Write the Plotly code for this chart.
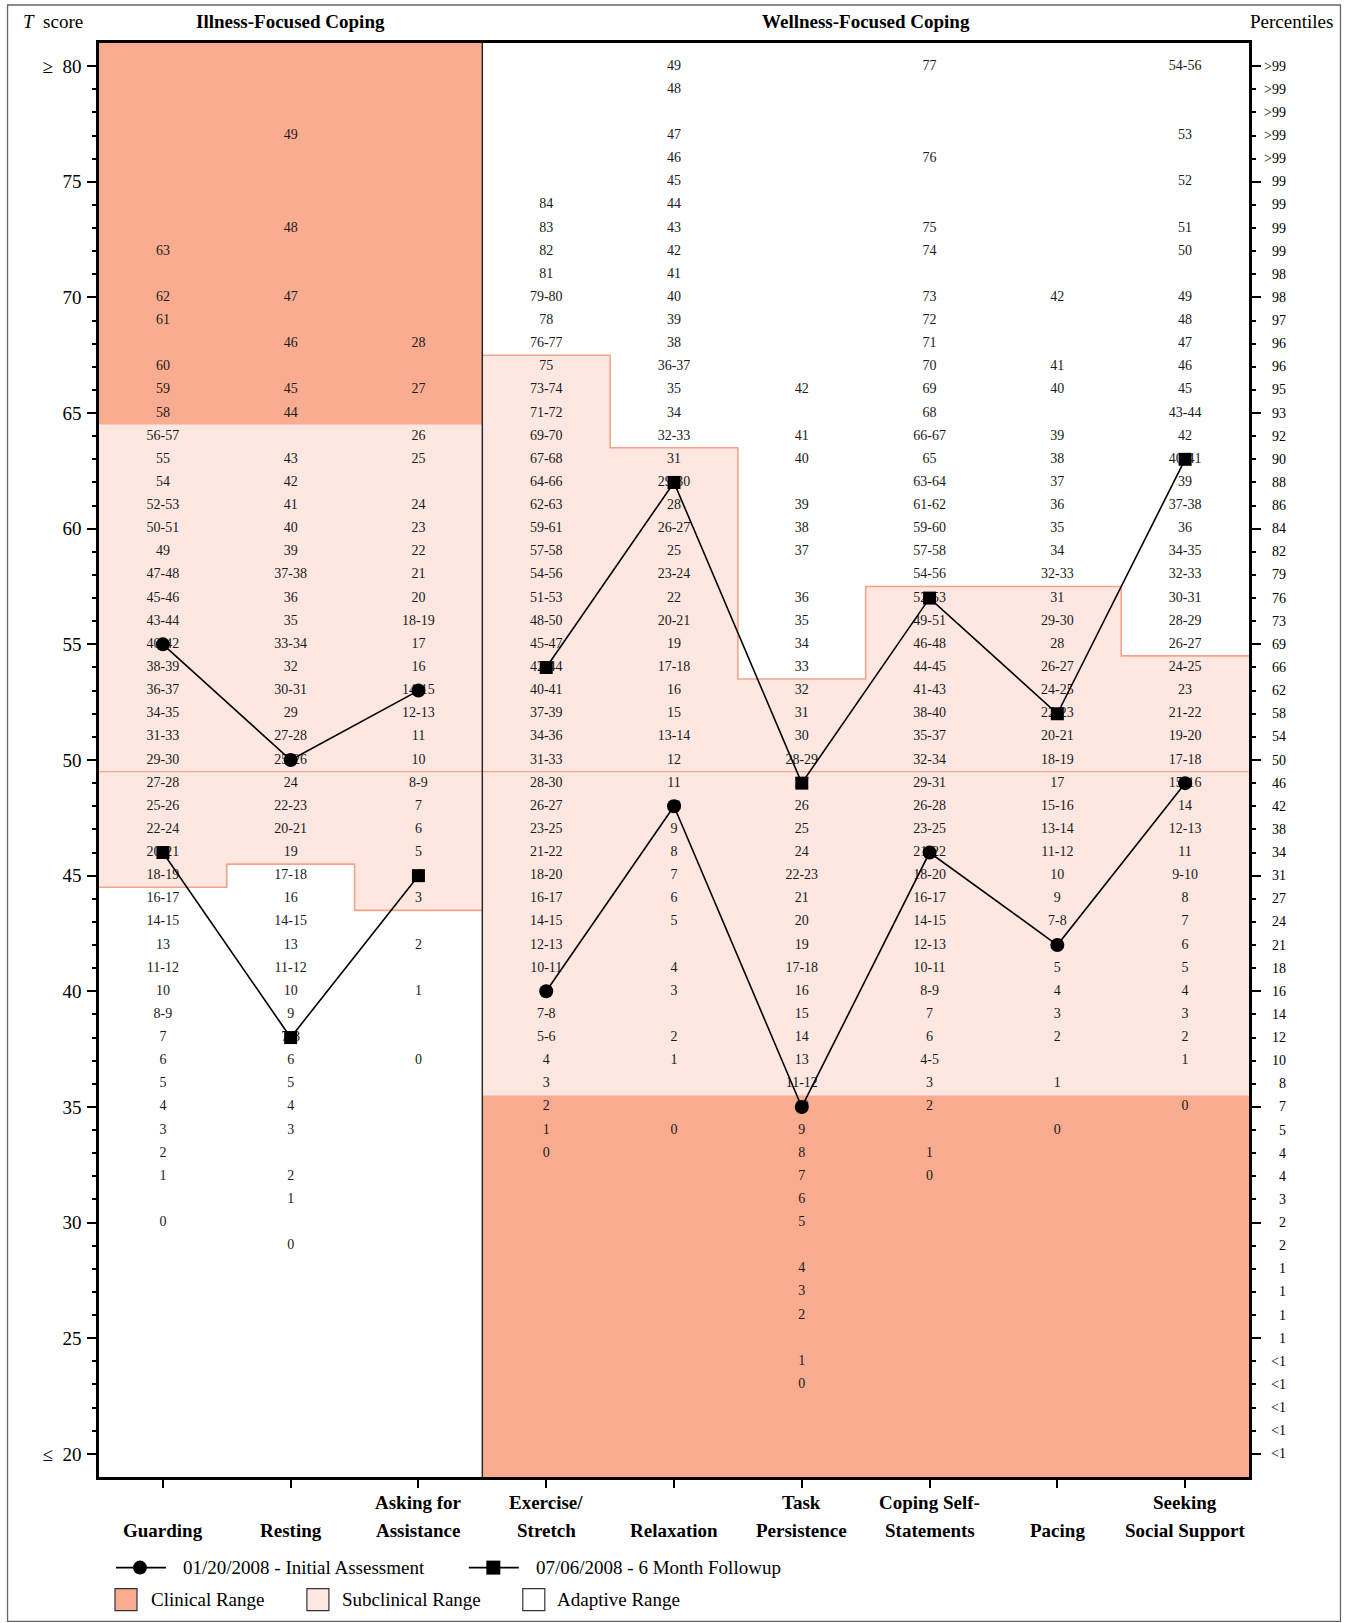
import plotly.graph_objects as go

# ---------------- data ----------------
categories = ["Guarding", "Resting", "Asking for<br>Assistance", "Exercise/<br>Stretch",
              "Relaxation", "Task<br>Persistence", "Coping Self-<br>Statements",
              "Pacing", "Seeking<br>Social Support"]
group = ["illness", "illness", "illness", "wellness", "wellness", "wellness",
         "wellness", "wellness", "wellness"]

initial = [55, 50, 53, 40, 48, 35, 46, 42, 49]      # 01/20/2008
followup = [46, 38, 45, 54, 62, 49, 57, 52, 63]     # 07/06/2008

illness_clinical_min = 65      # illness scales: T >= 65 clinical
wellness_clinical_max = 35     # wellness scales: T <= 35 clinical
# illness: lowest subclinical T ; wellness: highest subclinical T
subclinical_edge = [45, 46, 44, 67, 63, 53, 57, 57, 54]
mean_T = 50

raw_guarding = {72: "63", 70: "62", 69: "61", 67: "60", 66: "59", 65: "58", 64: "56-57",
                63: "55", 62: "54", 61: "52-53", 60: "50-51", 59: "49", 58: "47-48",
                57: "45-46", 56: "43-44", 55: "40-42", 54: "38-39", 53: "36-37",
                52: "34-35", 51: "31-33", 50: "29-30", 49: "27-28", 48: "25-26",
                47: "22-24", 46: "20-21", 45: "18-19", 44: "16-17", 43: "14-15",
                42: "13", 41: "11-12", 40: "10", 39: "8-9", 38: "7", 37: "6", 36: "5",
                35: "4", 34: "3", 33: "2", 32: "1", 30: "0"}
raw_resting = {77: "49", 73: "48", 70: "47", 68: "46", 66: "45", 65: "44", 63: "43",
               62: "42", 61: "41", 60: "40", 59: "39", 58: "37-38", 57: "36", 56: "35",
               55: "33-34", 54: "32", 53: "30-31", 52: "29", 51: "27-28", 50: "25-26",
               49: "24", 48: "22-23", 47: "20-21", 46: "19", 45: "17-18", 44: "16",
               43: "14-15", 42: "13", 41: "11-12", 40: "10", 39: "9", 38: "7-8",
               37: "6", 36: "5", 35: "4", 34: "3", 32: "2", 31: "1", 29: "0"}
raw_asking = {68: "28", 66: "27", 64: "26", 63: "25", 61: "24", 60: "23", 59: "22",
              58: "21", 57: "20", 56: "18-19", 55: "17", 54: "16", 53: "14-15",
              52: "12-13", 51: "11", 50: "10", 49: "8-9", 48: "7", 47: "6", 46: "5",
              45: "4", 44: "3", 42: "2", 40: "1", 37: "0"}
raw_exercise = {74: "84", 73: "83", 72: "82", 71: "81", 70: "79-80", 69: "78", 68: "76-77",
                67: "75", 66: "73-74", 65: "71-72", 64: "69-70", 63: "67-68", 62: "64-66",
                61: "62-63", 60: "59-61", 59: "57-58", 58: "54-56", 57: "51-53",
                56: "48-50", 55: "45-47", 54: "42-44", 53: "40-41", 52: "37-39",
                51: "34-36", 50: "31-33", 49: "28-30", 48: "26-27", 47: "23-25",
                46: "21-22", 45: "18-20", 44: "16-17", 43: "14-15", 42: "12-13",
                41: "10-11", 40: "9", 39: "7-8", 38: "5-6", 37: "4", 36: "3", 35: "2",
                34: "1", 33: "0"}
raw_relaxation = {80: "49", 79: "48", 77: "47", 76: "46", 75: "45", 74: "44", 73: "43",
                  72: "42", 71: "41", 70: "40", 69: "39", 68: "38", 67: "36-37", 66: "35",
                  65: "34", 64: "32-33", 63: "31", 62: "29-30", 61: "28", 60: "26-27",
                  59: "25", 58: "23-24", 57: "22", 56: "20-21", 55: "19", 54: "17-18",
                  53: "16", 52: "15", 51: "13-14", 50: "12", 49: "11", 48: "10", 47: "9",
                  46: "8", 45: "7", 44: "6", 43: "5", 41: "4", 40: "3", 38: "2", 37: "1",
                  34: "0"}
raw_task = {66: "42", 64: "41", 63: "40", 61: "39", 60: "38", 59: "37", 57: "36", 56: "35",
            55: "34", 54: "33", 53: "32", 52: "31", 51: "30", 50: "28-29", 49: "27",
            48: "26", 47: "25", 46: "24", 45: "22-23", 44: "21", 43: "20", 42: "19",
            41: "17-18", 40: "16", 39: "15", 38: "14", 37: "13", 36: "11-12", 35: "10",
            34: "9", 33: "8", 32: "7", 31: "6", 30: "5", 28: "4", 27: "3", 26: "2",
            24: "1", 23: "0"}
raw_coping = {80: "77", 76: "76", 73: "75", 72: "74", 70: "73", 69: "72", 68: "71", 67: "70",
              66: "69", 65: "68", 64: "66-67", 63: "65", 62: "63-64", 61: "61-62",
              60: "59-60", 59: "57-58", 58: "54-56", 57: "52-53", 56: "49-51",
              55: "46-48", 54: "44-45", 53: "41-43", 52: "38-40", 51: "35-37",
              50: "32-34", 49: "29-31", 48: "26-28", 47: "23-25", 46: "21-22",
              45: "18-20", 44: "16-17", 43: "14-15", 42: "12-13", 41: "10-11",
              40: "8-9", 39: "7", 38: "6", 37: "4-5", 36: "3", 35: "2", 33: "1", 32: "0"}
raw_pacing = {70: "42", 67: "41", 66: "40", 64: "39", 63: "38", 62: "37", 61: "36", 60: "35",
              59: "34", 58: "32-33", 57: "31", 56: "29-30", 55: "28", 54: "26-27",
              53: "24-25", 52: "22-23", 51: "20-21", 50: "18-19", 49: "17", 48: "15-16",
              47: "13-14", 46: "11-12", 45: "10", 44: "9", 43: "7-8", 42: "6", 41: "5",
              40: "4", 39: "3", 38: "2", 36: "1", 34: "0"}
raw_seeking = {80: "54-56", 77: "53", 75: "52", 73: "51", 72: "50", 70: "49", 69: "48",
               68: "47", 67: "46", 66: "45", 65: "43-44", 64: "42", 63: "40-41", 62: "39",
               61: "37-38", 60: "36", 59: "34-35", 58: "32-33", 57: "30-31", 56: "28-29",
               55: "26-27", 54: "24-25", 53: "23", 52: "21-22", 51: "19-20", 50: "17-18",
               49: "15-16", 48: "14", 47: "12-13", 46: "11", 45: "9-10", 44: "8", 43: "7",
               42: "6", 41: "5", 40: "4", 39: "3", 38: "2", 37: "1", 35: "0"}
raw_scores = [raw_guarding, raw_resting, raw_asking, raw_exercise, raw_relaxation,
              raw_task, raw_coping, raw_pacing, raw_seeking]

percentile_T = list(range(80, 19, -1))
percentile_labels = [">99", ">99", ">99", ">99", ">99", "99", "99", "99", "99", "98",
                     "98", "97", "96", "96", "95", "93", "92", "90", "88", "86",
                     "84", "82", "79", "76", "73", "69", "66", "62", "58", "54",
                     "50", "46", "42", "38", "34", "31", "27", "24", "21", "18",
                     "16", "14", "12", "10", "8", "7", "5", "4", "4", "3",
                     "2", "2", "1", "1", "1", "1", "<1", "<1", "<1", "<1", "<1"]

y_major = [20, 25, 30, 35, 40, 45, 50, 55, 60, 65, 70, 75, 80]
y_major_text = ["\u2264\u00a0 20", "25", "30", "35", "40", "45", "50", "55", "60", "65",
                "70", "75", "\u2265\u00a0 80"]

# ---------------- styles ----------------
CLIN = "#F9AC8F"
SUB = "#FDE7E0"
EDGE = "#F6A487"
SERIF = "Liberation Serif"

W, H = 1346, 1623
L, R, TOP, BOT = 99, 1249.5, 43, 1476.7


def px(x):
    return (x - L) / (R - L)


def py(y):
    return (BOT - y) / (BOT - TOP)


YMIN, YMAX = 19, 81
n = len(categories)
ill = [i for i, g in enumerate(group) if g == "illness"]
well = [i for i, g in enumerate(group) if g == "wellness"]

fig = go.Figure()
shapes = []


def path_from(pts):
    return "M " + " L ".join("%g,%g" % p for p in pts) + " Z"


# clinical ranges (one block per group)
ill_clin_lo = illness_clinical_min - 0.5
well_clin_hi = wellness_clinical_max + 0.5
shapes.append(dict(type="rect", xref="x", yref="y", x0=ill[0] - 0.5, x1=ill[-1] + 0.5,
                   y0=ill_clin_lo, y1=YMAX, fillcolor=CLIN, line=dict(width=0), layer="below"))
shapes.append(dict(type="rect", xref="x", yref="y", x0=well[0] - 0.5, x1=well[-1] + 0.5,
                   y0=YMIN, y1=well_clin_hi, fillcolor=CLIN, line=dict(width=0), layer="below"))
# subclinical ranges (stepped polygons)
pts = [(ill[0] - 0.5, ill_clin_lo), (ill[-1] + 0.5, ill_clin_lo)]
for i in reversed(ill):
    pts += [(i + 0.5, subclinical_edge[i] - 0.5), (i - 0.5, subclinical_edge[i] - 0.5)]
shapes.append(dict(type="path", xref="x", yref="y", path=path_from(pts), fillcolor=SUB,
                   line=dict(width=0), layer="below"))
pts = [(well[0] - 0.5, well_clin_hi), (well[-1] + 0.5, well_clin_hi)]
for i in reversed(well):
    pts += [(i + 0.5, subclinical_edge[i] + 0.5), (i - 0.5, subclinical_edge[i] + 0.5)]
shapes.append(dict(type="path", xref="x", yref="y", path=path_from(pts), fillcolor=SUB,
                   line=dict(width=0), layer="below"))

# step outlines of the subclinical / adaptive border
ill_x = [i - 0.5 for i in ill] + [ill[-1] + 0.5]
ill_y = [subclinical_edge[i] - 0.5 for i in ill] + [subclinical_edge[ill[-1]] - 0.5]
well_x = [i - 0.5 for i in well] + [well[-1] + 0.5]
well_y = [subclinical_edge[i] + 0.5 for i in well] + [subclinical_edge[well[-1]] + 0.5]
for sx, sy in ((ill_x, ill_y), (well_x, well_y)):
    fig.add_trace(go.Scatter(x=sx, y=sy, mode="lines", line=dict(color=EDGE, width=1.6, shape="hv"),
                             hoverinfo="skip", showlegend=False))
# mean line
fig.add_trace(go.Scatter(x=[-0.5, n - 0.5], y=[mean_T - 0.5, mean_T - 0.5], mode="lines",
                         line=dict(color=EDGE, width=1.2), hoverinfo="skip", showlegend=False))

# divider between illness and wellness
shapes.append(dict(type="line", xref="x", yref="y", x0=ill[-1] + 0.5, x1=ill[-1] + 0.5,
                   y0=YMIN, y1=YMAX, line=dict(color="#222", width=1.4)))

# raw score labels
for i, d in enumerate(raw_scores):
    ts = list(d.keys())
    fig.add_trace(go.Scatter(x=[i] * len(ts), y=ts, text=list(d.values()), mode="text",
                             textposition="middle center",
                             textfont=dict(family=SERIF, size=14, color="#1a1a1a"),
                             hoverinfo="skip", showlegend=False))


def split_series(vals):
    xs, ys = [], []
    for i in range(n):
        if i > 0 and group[i] != group[i - 1]:
            xs.append(None)
            ys.append(None)
        xs.append(i)
        ys.append(vals[i])
    return xs, ys


xi, yi = split_series(initial)
fig.add_trace(go.Scatter(x=xi, y=yi, mode="lines+markers", name="01/20/2008 - Initial Assessment",
                         line=dict(color="black", width=1.6),
                         marker=dict(symbol="circle", size=14, color="black"),
                         showlegend=False))
xf, yf = split_series(followup)
fig.add_trace(go.Scatter(x=xf, y=yf, mode="lines+markers", name="07/06/2008 - 6 Month Followup",
                         line=dict(color="black", width=1.6),
                         marker=dict(symbol="square", size=13, color="black"),
                         showlegend=False))

annotations = []
# headers
annotations.append(dict(xref="paper", yref="paper", x=px(21), y=py(22), xanchor="left",
                        yanchor="middle", showarrow=False, text="<i>T</i>\u00a0 score",
                        font=dict(family=SERIF, size=19, color="black")))
annotations.append(dict(xref="x", yref="paper", x=(ill[0] + ill[-1]) / 2, y=py(22),
                        xanchor="center", yanchor="middle", showarrow=False,
                        text="<b>Illness-Focused Coping</b>",
                        font=dict(family=SERIF, size=19, color="black")))
annotations.append(dict(xref="x", yref="paper", x=(well[0] + well[-1]) / 2, y=py(22),
                        xanchor="center", yanchor="middle", showarrow=False,
                        text="<b>Wellness-Focused Coping</b>",
                        font=dict(family=SERIF, size=19, color="black")))
annotations.append(dict(xref="paper", yref="paper", x=px(1292), y=py(22), xanchor="center",
                        yanchor="middle", showarrow=False, text="Percentiles",
                        font=dict(family=SERIF, size=19, color="black")))
# category labels (two lines, bottom aligned)
for i, c in enumerate(categories):
    parts = c.split("<br>")
    if len(parts) == 1:
        parts = [""] + parts
    for part, ypix in zip(parts, (1502.5, 1530.5)):
        if part:
            annotations.append(dict(xref="x", yref="paper", x=i, y=py(ypix), xanchor="center",
                                    yanchor="middle", showarrow=False, text="<b>%s</b>" % part,
                                    font=dict(family=SERIF, size=19, color="black")))
# percentiles
for t, lab in zip(percentile_T, percentile_labels):
    annotations.append(dict(xref="paper", yref="y", x=px(1289), y=t, xanchor="right",
                            yanchor="middle", showarrow=False, text=lab.replace("<", "&lt;"),
                            font=dict(family=SERIF, size=14, color="black")))

# legend
LY1, LY2 = 1567.3, 1599.3
shapes.append(dict(type="line", xref="paper", yref="paper", x0=px(116), x1=px(166),
                   y0=py(LY1), y1=py(LY1), line=dict(color="black", width=1.6)))
shapes.append(dict(type="circle", xref="paper", yref="paper", x0=px(133), x1=px(147),
                   y0=py(LY1 + 7), y1=py(LY1 - 7), fillcolor="black", line=dict(color="black", width=0)))
shapes.append(dict(type="line", xref="paper", yref="paper", x0=px(469), x1=px(519),
                   y0=py(LY1), y1=py(LY1), line=dict(color="black", width=1.6)))
shapes.append(dict(type="rect", xref="paper", yref="paper", x0=px(486.5), x1=px(500.5),
                   y0=py(LY1 + 7), y1=py(LY1 - 7), fillcolor="black", line=dict(color="black", width=0)))
annotations.append(dict(xref="paper", yref="paper", x=px(181), y=py(LY1), xanchor="left",
                        yanchor="middle", showarrow=False, text="01/20/2008 - Initial Assessment",
                        font=dict(family=SERIF, size=19, color="black")))
annotations.append(dict(xref="paper", yref="paper", x=px(534), y=py(LY1), xanchor="left",
                        yanchor="middle", showarrow=False, text="07/06/2008 - 6 Month Followup",
                        font=dict(family=SERIF, size=19, color="black")))
for (bx, tx, col, lab) in ((115, 149, CLIN, "Clinical Range"),
                           (307, 340, SUB, "Subclinical Range"),
                           (523, 555, "white", "Adaptive Range")):
    shapes.append(dict(type="rect", xref="paper", yref="paper", x0=px(bx), x1=px(bx + 22),
                       y0=py(LY2 + 11), y1=py(LY2 - 11), fillcolor=col,
                       line=dict(color="#333", width=1.2)))
    annotations.append(dict(xref="paper", yref="paper", x=px(tx), y=py(LY2), xanchor="left",
                            yanchor="middle", showarrow=False, text=lab,
                            font=dict(family=SERIF, size=19, color="black")))

# outer frame
shapes.append(dict(type="rect", xref="paper", yref="paper", x0=px(7.5), x1=px(1341),
                   y0=py(1621), y1=py(5), line=dict(color="#666", width=1.3), layer="below"))

fig.update_layout(
    width=W, height=H, autosize=False,
    margin=dict(l=L, r=W - R, t=TOP, b=H - BOT, pad=0),
    paper_bgcolor="white", plot_bgcolor="white",
    shapes=shapes, annotations=annotations, showlegend=False,
    xaxis=dict(range=[-0.5, n - 0.5], tickvals=list(range(n)), showticklabels=False,
               ticks="outside", ticklen=8, tickwidth=2, tickcolor="black",
               showline=True, linewidth=2.5, linecolor="black", mirror=True,
               showgrid=False, zeroline=False, fixedrange=True),
    yaxis=dict(range=[YMIN, YMAX], tickvals=y_major, ticktext=y_major_text,
               ticks="outside", ticklen=9, tickwidth=2.2, tickcolor="black",
               minor=dict(tickvals=[v for v in range(21, 80) if v % 5], ticklen=4,
                          tickwidth=1.5, tickcolor="black", ticks="outside", showgrid=False),
               showline=True, linewidth=2.5, linecolor="black", mirror="ticks",
               showgrid=False, zeroline=False, ticklabelstandoff=2,
               tickfont=dict(family=SERIF, size=19, color="black"), fixedrange=True),
)

fig.write_html("out.html", config={"displayModeBar": False},
               post_script="document.body.style.margin='0';document.body.style.overflow='hidden';")
